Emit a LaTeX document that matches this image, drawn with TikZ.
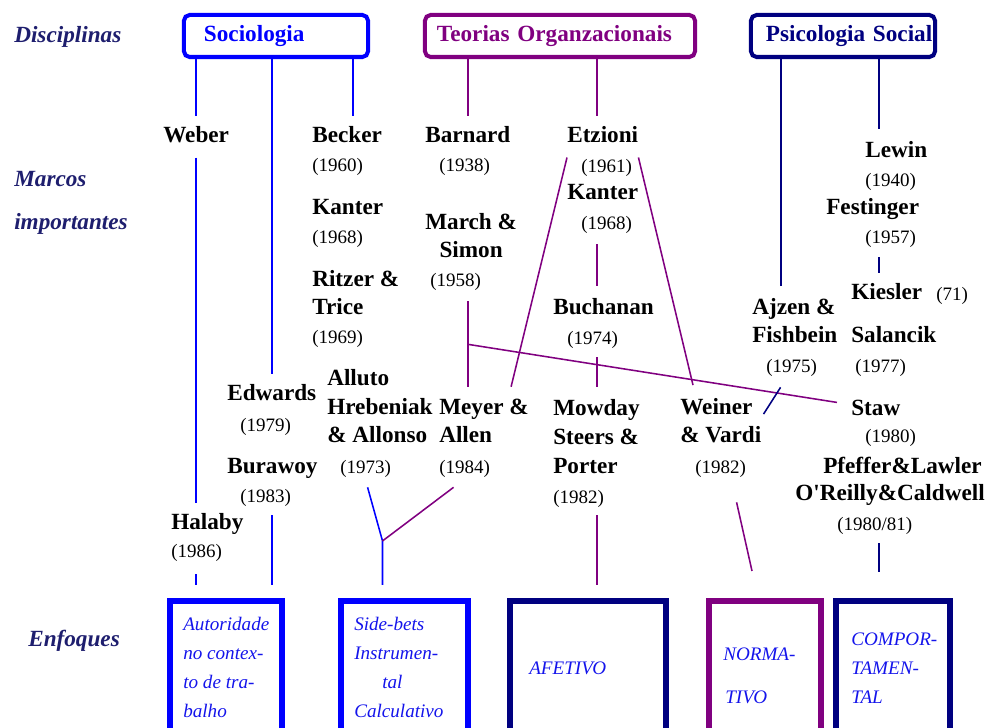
\documentclass[tikz,border=0pt]{standalone}
\usepackage{fontspec}
\setmainfont{Liberation Serif}
\usetikzlibrary{calc}

\definecolor{socblue}{RGB}{0,0,255}
\definecolor{orgpurple}{RGB}{128,0,128}
\definecolor{psinavy}{RGB}{0,0,128}
\definecolor{labnavy}{RGB}{30,30,110}
\definecolor{enfblue}{RGB}{20,20,235}

\tikzset{
  nome/.style={anchor=base west, inner sep=0pt, align=left, font=\fontsize{16.5}{20.3}\selectfont\bfseries},
  ano/.style={anchor=base west, inner sep=0pt, font=\fontsize{13.5}{16}\selectfont},
  rotulo/.style={anchor=base west, inner sep=0pt, text=labnavy, font=\fontsize{16.5}{20}\selectfont\bfseries\itshape},
  disc/.style={draw=#1, text=#1, line width=2.85pt, rounded corners=4pt, minimum height=1.05cm, inner ysep=0pt, align=left, font=\fontsize{16.5}{20}\selectfont\bfseries},
  enfbox/.style={draw=#1, line width=4.3pt, minimum height=4cm},
  enftxt/.style={anchor=base west, inner sep=0pt, align=left, text=enfblue, font=\fontsize{13.6}{20.6}\selectfont\itshape},
  socl/.style={socblue, line width=1.1pt},
  orgl/.style={orgpurple, line width=1.1pt},
  psil/.style={psinavy, line width=1.1pt}
}

\begin{document}
\begin{tikzpicture}[x=0.025cm, y=-0.025cm]
  \useasboundingbox (0,0) rectangle (988,728);
  \clip (0,0) rectangle (988,728);

  % Row labels
  \node[rotulo] (disciplinas) at (14,43) {Disciplinas};
  \node[rotulo] (marcos) at (14,187) {Marcos};
  \node[rotulo] (importantes) at (14,230) {importantes};
  \node[rotulo] (enfoques) at (28,646) {Enfoques};

  % Disciplines
  \node[disc=socblue, text width=3.6cm, inner xsep=0.5cm] (soc) at (276,36) {Sociologia};
  \node[disc=orgpurple, text width=6.15cm, inner xsep=0.3cm] (org) at (560,36) {Teorias Organzacionais};
  \node[disc=psinavy, text width=3.85cm, inner xsep=0.375cm] (psi) at (843,36) {\mbox{Psicologia Social}};

  % Sociologia authors (multi-line nodes sit on their last line)
  \node[nome] (weber) at (163,143) {Weber};
  \node[nome] (becker) at (312,143) {Becker};
  \node[ano] (becker60) at (312,172) {(1960)};
  \node[nome] (kanterS) at (312,215) {Kanter};
  \node[ano] (kanterS68) at (312,244) {(1968)};
  \node[nome] (ritzer) at (312,315) {Ritzer \&\\Trice};
  \node[ano] (ritzer69) at (312,344) {(1969)};
  \node[nome] (edwards) at (227,401) {Edwards};
  \node[ano] (edwards79) at (240,432) {(1979)};
  \node[nome] (burawoy) at (227,473) {Burawoy};
  \node[ano] (burawoy83) at (240,502) {(1983)};
  \node[nome] (halaby) at (171,529) {Halaby};
  \node[ano] (halaby86) at (171,557) {(1986)};
  \node[nome] (alluto) at (327,443) {Alluto\\Hrebeniak\\\& Allonso};
  \node[ano] (alluto73) at (340,473) {(1973)};

  % Teorias Organizacionais authors
  \node[nome] (barnard) at (425,143) {Barnard};
  \node[ano] (barnard38) at (439,172) {(1938)};
  \node[nome, align=center] (march) at (425,258) {March \&\\Simon};
  \node[ano] (march58) at (430,287) {(1958)};
  \node[nome] (meyer) at (439,443) {Meyer \&\\Allen};
  \node[ano] (meyer84) at (439,473) {(1984)};
  \node[nome] (etzioni) at (567,143) {Etzioni};
  \node[ano] (etzioni61) at (581,173) {(1961)};
  \node[nome] (kanterO) at (567,200) {Kanter};
  \node[ano] (kanterO68) at (581,230) {(1968)};
  \node[nome] (buchanan) at (553,315) {Buchanan};
  \node[ano] (buchanan74) at (567,345) {(1974)};
  \node[nome] (mowday) at (553,473) {Mowday\\Steers \&\\Porter};
  \node[ano] (mowday82) at (553,503) {(1982)};
  \node[nome] (weiner) at (680,443) {Weiner\\\& Vardi};
  \node[ano] (weiner82) at (695,473) {(1982)};

  % Psicologia Social authors
  \node[nome] (lewin) at (865,158) {Lewin};
  \node[ano] (lewin40) at (865,187) {(1940)};
  \node[nome] (festinger) at (826,215) {Festinger};
  \node[ano] (festinger57) at (865,244) {(1957)};
  \node[nome] (kiesler) at (851,300) {Kiesler};
  \node[ano] (kiesler71) at (936,301) {(71)};
  \node[nome] (ajzen) at (752,343) {Ajzen \&\\Fishbein};
  \node[ano] (ajzen75) at (766,373) {(1975)};
  \node[nome] (salancik) at (851,343) {Salancik};
  \node[ano] (salancik77) at (855,373) {(1977)};
  \node[nome] (staw) at (851,416) {Staw};
  \node[ano] (staw80) at (865,443) {(1980)};
  \node[nome] (pfeffer) at (823,473) {Pfeffer\&Lawler};
  \node[nome] (oreilly) at (795,500) {O\textquotesingle{}Reilly\&Caldwell};
  \node[ano] (pfeffer8081) at (837,530) {(1980/81)};

  % Enfoques
  \node[enfbox=socblue, minimum width=2.8cm] (autor) at (226,681) {};
  \node[enfbox=socblue, minimum width=3.175cm] (sideb) at (404.5,681) {};
  \node[enfbox=psinavy, minimum width=3.9cm] (afetivo) at (588,681) {};
  \node[enfbox=orgpurple, minimum width=2.8cm] (normativo) at (765,681) {};
  \node[enfbox=psinavy, minimum width=2.85cm] (comport) at (893,681) {};
  \node[enftxt] (autortxt) at (183,717) {Autoridade\\no contex-\\to de tra-\\balho};
  \node[enftxt] (sidebtxt) at (354,717) {Side-bets\\Instrumen-\\\hspace*{0.7cm}tal\\Calculativo};
  \node[enftxt] (afetivotxt) at (529,674) {AFETIVO};
  \node[enftxt] (norma) at (723,660) {NORMA-};
  \node[enftxt] (tivo) at (725,703) {TIVO};
  \node[enftxt] (comporttxt) at (851,703) {COMPOR-\\TAMEN-\\TAL};

  % Sociologia lines
  \draw[socl] (soc.south -| weber.north) -- ($(weber.north)+(0,-11)$);
  \draw[socl] (soc.south -| edwards.north) -- ($(edwards.north)+(0,-11)$);
  \draw[socl] ($(becker.north)+(6,-11)$) coordinate (bk) -- (soc.south -| bk);
  \draw[socl] ($(weber.south)+(0,14)$) -- ($(weber.south |- halaby.north)+(0,-10)$);
  \draw[socl] ($(halaby86.south -| weber.south)+(0,13)$) -- ($(autor.north -| weber.south)+(0,-13)$);
  \draw[socl] ($(burawoy83.south -| edwards.north)+(0,9)$) -- ($(autor.north -| edwards.north)+(0,-13)$);
  \coordinate (jsb) at ($(sideb.north)+(-22,-57)$);
  \draw[socl] ($(alluto73.south)+(2,10)$) -- (jsb) -- ($(jsb |- sideb.north)+(0,-13)$);

  % Teorias Organizacionais lines
  \draw[orgl] ($(meyer84.south)+(-11,10)$) -- (jsb);
  \draw[orgl] (org.south -| barnard.north) -- ($(barnard.north)+(0,-11)$);
  \draw[orgl] ($(etzioni.north)+(-6,-11)$) coordinate (ez) -- (org.south -| ez);
  \draw[orgl] ($(etzioni.south west)+(0,14)$) -- ($(meyer.north east)+(-18,-12)$);
  \draw[orgl] ($(etzioni.south east)+(0,14)$) -- ($(weiner.north west)+(13,-13)$);
  \draw[orgl] ($(kanterO68.south -| ez)+(0,10)$) -- ($(buchanan.north -| ez)+(0,-13)$);
  \draw[orgl] ($(buchanan74.south -| ez)+(0,8)$) -- ($(mowday.north -| ez)+(0,-13)$);
  \draw[orgl] ($(march58.south -| barnard.north)+(0,10)$) -- ($(meyer.north -| barnard.north)+(0,-12)$);
  \coordinate (jms) at ($(march58.south -| barnard.north)+(0,53)$);
  \draw[orgl] (jms) -- ($(staw.west)+(-14,-6)$);
  \draw[orgl] ($(mowday82.south -| ez)+(0,8)$) -- ($(afetivo.north -| ez)+(0,-13)$);
  \draw[orgl] ($(weiner82.south)+(16,25)$) -- ($(normativo.north)+(-13,-27)$);

  % Psicologia Social lines
  \draw[psil] ($(ajzen.north)+(-14,-12)$) coordinate (az) -- (psi.south -| az);
  \draw[psil] ($(lewin.north)+(-17,-13)$) coordinate (lw) -- (psi.south -| lw);
  \draw[psil] ($(festinger57.south -| lw)+(0,9)$) -- ($(kiesler.north -| lw)+(0,-11)$);
  \draw[psil] ($(ajzen75.south)+(-11,10)$) -- ($(weiner.north east)+(2,16)$);
  \draw[psil] ($(pfeffer8081.south -| lw)+(0,9)$) -- ($(comport.north -| lw)+(0,-26)$);
\end{tikzpicture}
\end{document}
